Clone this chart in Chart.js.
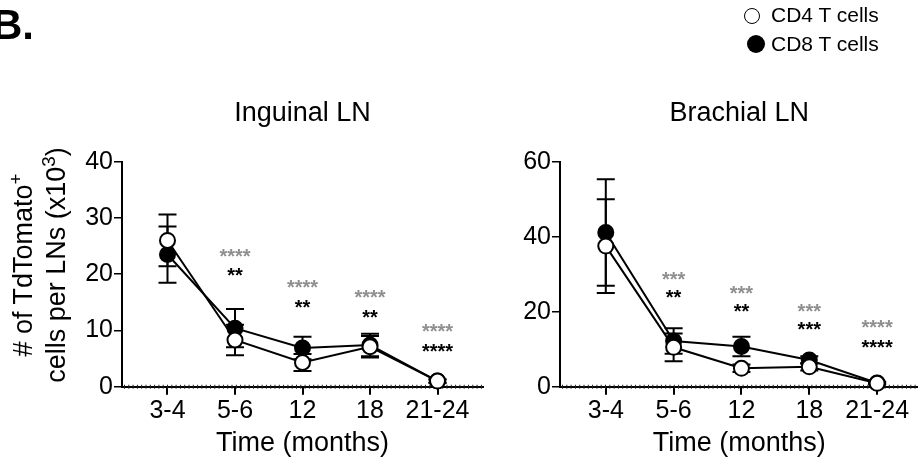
<!DOCTYPE html>
<html>
<head>
<meta charset="utf-8">
<script src="https://cdn.jsdelivr.net/npm/chart.js@4.4.1/dist/chart.umd.min.js"></script>
<style>
  body { margin: 0; background: #fff; font-family: 'Liberation Sans', Arial, sans-serif; }
  #wrap { position: relative; width: 918px; height: 466px; overflow: hidden; }
  canvas { position: absolute; top: 0; }
  #panelLetter { position: absolute; left: -8px; top: 0px; font-weight: bold; font-size: 42px; line-height: 50px; }
  .legItem { position: absolute; left: 771px; font-size: 21px; line-height: 24px; }
  .legDot { position: absolute; border-radius: 50%; box-sizing: border-box; }
  #yTitle { position: absolute; left: -110px; top: 232px; width: 300px; height: 66px;
            transform: rotate(-90deg); text-align: center; font-size: 27px; line-height: 33px; white-space: nowrap; }
  #yTitle sup { font-size: 0.7em; line-height: 0; vertical-align: 0.55em; }
</style>
</head>
<body>
<div id="wrap">
  <canvas id="inguinalChart" width="495" height="466" style="left:0px"></canvas>
  <canvas id="brachialChart" width="433" height="466" style="left:495px"></canvas>
  <div id="panelLetter">B.</div>
  <div id="yTitle">
    <div># of TdTomato<sup>+</sup></div>
    <div>cells per LNs (x10<sup>3</sup>)</div>
  </div>
  <div class="legDot" style="left:744px;top:7.5px;width:16px;height:16px;border:1.5px solid #000;background:#fff"></div>
  <div class="legItem" style="top:3px">CD4 T cells</div>
  <div class="legDot" style="left:746.5px;top:35px;width:18px;height:18px;background:#000"></div>
  <div class="legItem" style="top:32px">CD8 T cells</div>
</div>

<script>
// time points (months)
const categories = ['3-4', '5-6', '12', '18', '21-24'];

// Inguinal LN, # cells x10^3 (mean and error)
const inguinalCD4 = [26.0, 8.3, 4.3, 7.1, 1.0];
const inguinalCD4Err = [4.6, 2.7, 1.5, 1.9, 0.3];
const inguinalCD8 = [23.5, 10.4, 6.9, 7.4, 1.0];
const inguinalCD8Err = [5.0, 3.4, 2.0, 2.0, 0.3];

// Brachial LN
const brachialCD4 = [37.5, 10.5, 4.9, 5.3, 0.9];
const brachialCD4Err = [12.5, 3.7, 1.0, 1.0, 0.3];
const brachialCD8 = [41.1, 12.2, 10.7, 7.1, 1.0];
const brachialCD8Err = [14.2, 3.4, 2.6, 1.0, 0.3];

// significance marks (grey = CD4, black = CD8) and the value they sit at
const inguinalStarsGrey = ['', '****', '****', '****', '****'];
const inguinalStarsGreyAt = [null, 24.1, 18.5, 16.8, 10.7];
const inguinalStarsBlack = ['', '**', '**', '**', '****'];
const inguinalStarsBlackAt = [null, 20.6, 14.9, 13.2, 7.2];
const brachialStarsGrey = ['', '***', '***', '***', '****'];
const brachialStarsGreyAt = [null, 29.8, 26.2, 21.5, 17.2];
const brachialStarsBlack = ['', '**', '**', '***', '****'];
const brachialStarsBlackAt = [null, 25.1, 21.5, 16.5, 11.8];

// y axis ticks
const inguinalYTicks = [0, 10, 20, 30, 40];
const brachialYTicks = [0, 20, 40, 60];

const FONT = "'Liberation Sans', Arial, sans-serif";
Chart.defaults.font.family = FONT;
Chart.defaults.color = '#000';

function toPoints(values) {
  return values.map(function (v, i) { return { x: i, y: v }; });
}

// panel title, centred over the plot area rather than the canvas
const panelTitle = {
  id: 'panelTitle',
  afterDraw(chart, args, opts) {
    const ctx = chart.ctx, area = chart.chartArea;
    ctx.save();
    ctx.font = '27px ' + FONT;
    ctx.fillStyle = '#000';
    ctx.textAlign = 'center';
    ctx.textBaseline = 'middle';
    ctx.fillText(opts.text, (area.left + area.right) / 2, area.top - 48);
    ctx.restore();
  }
};

// dotted baseline along y = 0
const dottedAxis = {
  id: 'dottedAxis',
  beforeDatasetsDraw(chart) {
    const ctx = chart.ctx, area = chart.chartArea;
    const y = chart.scales.y.getPixelForValue(0);
    ctx.save();
    ctx.strokeStyle = '#222';
    ctx.lineWidth = 4;
    ctx.setLineDash([1, 3.3]);
    ctx.beginPath();
    ctx.moveTo(area.left + 2, y);
    ctx.lineTo(area.right, y);
    ctx.stroke();
    ctx.restore();
  }
};

// error bars with caps, drawn under the lines and markers
const errorBars = {
  id: 'errorBars',
  beforeDatasetsDraw(chart) {
    const ctx = chart.ctx;
    const xs = chart.scales.x, ys = chart.scales.y;
    ctx.save();
    ctx.strokeStyle = '#000';
    ctx.lineWidth = 2;
    chart.data.datasets.forEach(function (ds) {
      ds.errors.forEach(function (err, i) {
        const v = ds.data[i].y;
        const x = xs.getPixelForValue(i);
        const top = ys.getPixelForValue(v + err);
        const bot = ys.getPixelForValue(Math.max(v - err, 0));
        ctx.beginPath();
        ctx.moveTo(x, top); ctx.lineTo(x, bot);
        ctx.moveTo(x - 9, top); ctx.lineTo(x + 9, top);
        ctx.moveTo(x - 9, bot); ctx.lineTo(x + 9, bot);
        ctx.stroke();
      });
    });
    ctx.restore();
  }
};

// asterisks above each time point
const stars = {
  id: 'stars',
  afterDatasetsDraw(chart, args, opts) {
    const ctx = chart.ctx;
    const xs = chart.scales.x, ys = chart.scales.y;
    ctx.save();
    ctx.font = 'bold 20px ' + FONT;
    ctx.textAlign = 'center';
    ctx.textBaseline = 'alphabetic';
    opts.rows.forEach(function (row) {
      ctx.fillStyle = row.color;
      row.text.forEach(function (t, i) {
        if (!t) return;
        ctx.fillText(t, xs.getPixelForValue(i), ys.getPixelForValue(row.at[i]) + 11.5);
      });
    });
    ctx.restore();
  }
};

function makePanel(id, title, cd4, cd4Err, cd8, cd8Err, yTicks, yWidth, xMin, xMax, padRight, starRows) {
  const ctx = document.getElementById(id).getContext('2d');
  return new Chart(ctx, {
    type: 'line',
    data: {
      datasets: [{
        label: 'CD4 T cells',
        data: toPoints(cd4),
        errors: cd4Err,
        borderColor: '#000',
        borderWidth: 2,
        pointRadius: 7.5,
        pointBorderWidth: 2,
        pointBackgroundColor: '#fff',
        pointBorderColor: '#000',
        fill: false,
        clip: false
      }, {
        label: 'CD8 T cells',
        data: toPoints(cd8),
        errors: cd8Err,
        borderColor: '#000',
        borderWidth: 2,
        pointRadius: 7.5,
        pointBorderWidth: 2,
        pointBackgroundColor: '#000',
        pointBorderColor: '#000',
        fill: false,
        clip: false
      }]
    },
    options: {
      responsive: false,
      animation: false,
      layout: { padding: { top: 161.7, right: padRight, bottom: 0, left: 0 } },
      plugins: {
        legend: { display: false },
        tooltip: { enabled: false },
        panelTitle: { text: title },
        stars: { rows: starRows }
      },
      scales: {
        x: {
          type: 'linear',
          min: xMin,
          max: xMax,
          afterBuildTicks: function (scale) {
            scale.ticks = categories.map(function (c, i) { return { value: i }; });
          },
          afterFit: function (scale) { scale.height = 79.3; },
          ticks: {
            autoSkip: false,
            maxRotation: 0,
            padding: 1.8,
            font: { size: 25 },
            color: '#000',
            callback: function (v) { return categories[v]; }
          },
          grid: { drawOnChartArea: false, tickLength: 8, color: '#000', lineWidth: 2 },
          border: { color: '#000', width: 2 },
          title: {
            display: true,
            text: 'Time (months)',
            color: '#000',
            font: { size: 27, lineHeight: 1.2 },
            padding: { top: 0, bottom: 5.8 }
          }
        },
        y: {
          min: yTicks[0],
          max: yTicks[yTicks.length - 1],
          afterBuildTicks: function (scale) {
            scale.ticks = yTicks.map(function (v) { return { value: v }; });
          },
          afterFit: function (scale) { scale.width = yWidth; },
          ticks: { padding: 1, font: { size: 25 }, color: '#000' },
          grid: { drawOnChartArea: false, tickLength: 8, color: '#000', lineWidth: 1.5 },
          border: { color: '#000', width: 2 }
        }
      }
    },
    plugins: [dottedAxis, errorBars, stars, panelTitle]
  });
}

makePanel('inguinalChart', 'Inguinal LN', inguinalCD4, inguinalCD4Err, inguinalCD8, inguinalCD8Err,
  inguinalYTicks, 122, -0.674, 4.674, 12, [
    { text: inguinalStarsGrey, at: inguinalStarsGreyAt, color: '#8f8f8f' },
    { text: inguinalStarsBlack, at: inguinalStarsBlackAt, color: '#000' }
  ]);

makePanel('brachialChart', 'Brachial LN', brachialCD4, brachialCD4Err, brachialCD8, brachialCD8Err,
  brachialYTicks, 65, -0.675, 4.61, 0, [
    { text: brachialStarsGrey, at: brachialStarsGreyAt, color: '#8f8f8f' },
    { text: brachialStarsBlack, at: brachialStarsBlackAt, color: '#000' }
  ]);
</script>
</body>
</html>
